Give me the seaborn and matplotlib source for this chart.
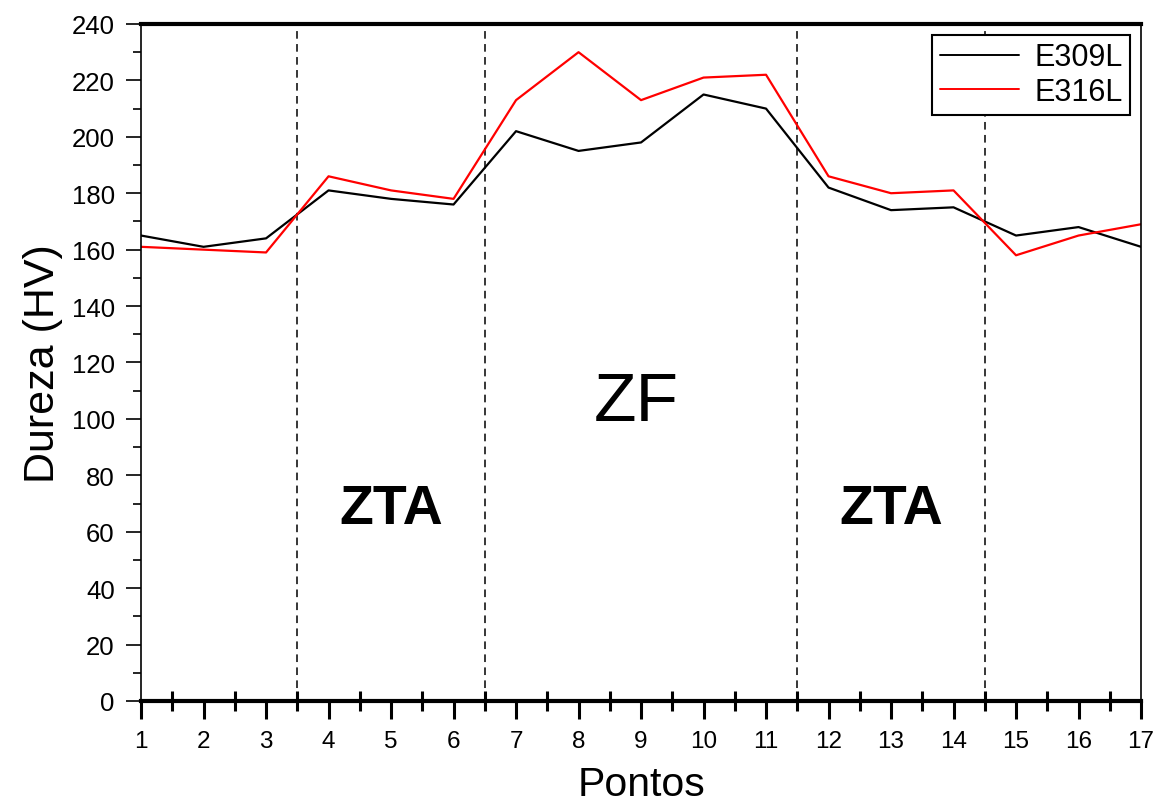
import numpy as np
import pandas as pd
import matplotlib
matplotlib.use("Agg")
import matplotlib.pyplot as plt
import seaborn as sns
from matplotlib.ticker import MultipleLocator

pontos = list(range(1, 18))
e309l = [165, 161, 164, 181, 178, 176, 202, 195, 198, 215, 210, 182, 174, 175, 165, 168, 161]
e316l = [161, 160, 159, 186, 181, 178, 213, 230, 213, 221, 222, 186, 180, 181, 158, 165, 169]
series_names = ["E309L", "E316L"]
boundaries = [3.5, 6.5, 11.5, 14.5]
zone_labels = ["ZTA", "ZF", "ZTA"]
zone_x = [5, 8.92, 13]
zone_y = [68, 106, 68]

df = pd.DataFrame({
    "Pontos": pontos * 2,
    "Dureza": e309l + e316l,
    "Serie": [series_names[0]] * len(pontos) + [series_names[1]] * len(pontos),
})

sns.set_theme(style="ticks")
plt.rcParams["font.family"] = ["Liberation Sans", "DejaVu Sans"]
plt.rcParams["text.color"] = "black"
plt.rcParams["axes.labelcolor"] = "black"
plt.rcParams["xtick.color"] = "black"
plt.rcParams["ytick.color"] = "black"

fig = plt.figure(figsize=(11.57, 8.03), dpi=100)
ax = fig.add_axes([0.1219, 0.1258, 0.8643, 0.8431])

sns.lineplot(data=df, x="Pontos", y="Dureza", hue="Serie",
             palette={"E309L": "#000000", "E316L": "#ff0000"},
             linewidth=1.6, ax=ax, legend=True)

for b in boundaries:
    ax.axvline(b, color="black", linestyle=(0, (5, 3.5)), linewidth=1.1, zorder=1)

ax.text(zone_x[0], zone_y[0], zone_labels[0], fontsize=40, fontweight="bold",
        ha="center", va="center", color="black")
ax.text(zone_x[1], zone_y[1], zone_labels[1], fontsize=50,
        ha="center", va="center", color="black")
ax.text(zone_x[2], zone_y[2], zone_labels[2], fontsize=40, fontweight="bold",
        ha="center", va="center", color="black")

ax.set_xlim(1, 17)
ax.set_ylim(0, 240)
ax.set_xticks(pontos)
ax.xaxis.set_minor_locator(MultipleLocator(0.5))
ax.yaxis.set_major_locator(MultipleLocator(20))
ax.yaxis.set_minor_locator(MultipleLocator(10))

ax.tick_params(axis="x", which="major", direction="out", length=13, width=2.2,
               labelsize=17.5, pad=8, color="black", labelcolor="black")
ax.tick_params(axis="x", which="minor", direction="inout", length=14, width=2.2,
               color="black")
ax.tick_params(axis="y", which="major", direction="out", length=11, width=1.2,
               labelsize=18.5, pad=8, color="black", labelcolor="black")
ax.tick_params(axis="y", which="minor", direction="out", length=6, width=1.2,
               color="black")

for side in ["left", "right"]:
    ax.spines[side].set_linewidth(1.2)
    ax.spines[side].set_color("black")
for side in ["top", "bottom"]:
    ax.spines[side].set_linewidth(3)
    ax.spines[side].set_color("black")

ax.set_xlabel("Pontos", fontsize=29.5, labelpad=9, color="black")
ax.set_ylabel("Dureza (HV)", fontsize=31, labelpad=6, color="black")
ax.grid(False)

leg = ax.legend(loc="upper right", fontsize=22, frameon=True, fancybox=False,
                edgecolor="black", handlelength=2.6, borderaxespad=0.35,
                borderpad=0.25, labelspacing=0.15, handletextpad=0.5,
                title=None)
leg.get_frame().set_linewidth(1.5)
leg.get_frame().set_alpha(1)
for line in leg.get_lines():
    line.set_linewidth(1.4)
for t in leg.get_texts():
    t.set_color("black")

fig.savefig("out.png", dpi=100)
